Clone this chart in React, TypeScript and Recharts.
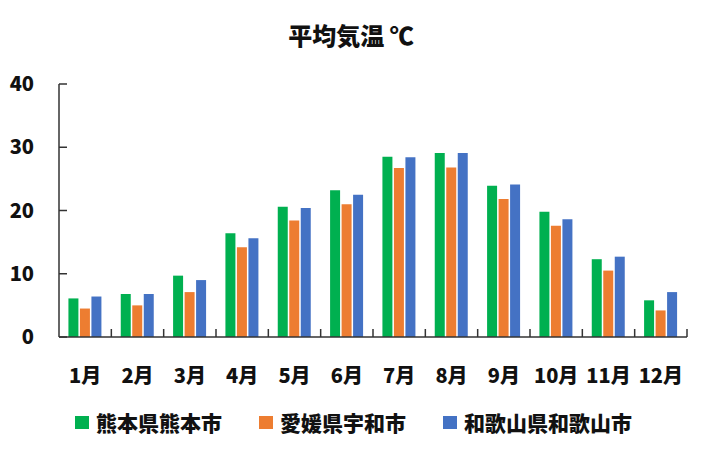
import { BarChart, Bar, XAxis, YAxis, Legend } from 'recharts';

const months = ['1月', '2月', '3月', '4月', '5月', '6月', '7月', '8月', '9月', '10月', '11月', '12月'];
const kumamoto = [6.1, 6.8, 9.7, 16.4, 20.6, 23.2, 28.5, 29.1, 23.9, 19.8, 12.3, 5.8];
const uwajima = [4.5, 5.0, 7.1, 14.2, 18.4, 21.0, 26.7, 26.8, 21.8, 17.6, 10.5, 4.2];
const wakayama = [6.4, 6.8, 9.0, 15.6, 20.4, 22.5, 28.4, 29.1, 24.1, 18.6, 12.7, 7.1];
const yTicks = [0, 10, 20, 30, 40];

const seriesNames = ['熊本県熊本市', '愛媛県宇和市', '和歌山県和歌山市'];
const seriesColors = ['#00B050', '#ED7D31', '#4472C4'];

const data = months.map((m, i) => ({
  month: m,
  kumamoto: kumamoto[i],
  uwajima: uwajima[i],
  wakayama: wakayama[i],
}));

const FONT = "'Noto Sans CJK JP', 'Noto Sans', sans-serif";
const WEIGHT = 900;
const AXIS_COLOR = '#333';
const TEXT_COLOR = '#111';
const X_TICK_MARGIN = 32;

// category label + boundary tick mark pointing up into the plot
const MonthTick = (props: any) => {
  const { x, y, payload } = props;
  const half = payload?.offset ?? 0;
  const axisY = y - X_TICK_MARGIN;
  return (
    <g>
      <line x1={x + half} x2={x + half} y1={axisY - 8} y2={axisY} stroke={AXIS_COLOR} strokeWidth={1.5} />
      <text x={x} y={y} dy="0.71em" textAnchor="middle" fill={TEXT_COLOR} fontSize={20} fontWeight={WEIGHT} fontFamily={FONT}>
        {payload.value}
      </text>
    </g>
  );
};

const LegendContent = () => (
  <div style={{ display: 'flex', justifyContent: 'center', alignItems: 'center', gap: 37, height: 26, paddingLeft: 20, fontFamily: FONT }}>
    {seriesNames.map((name, i) => (
      <div key={name} style={{ display: 'flex', alignItems: 'center', gap: 7 }}>
        <span style={{ display: 'inline-block', width: 14, height: 13, background: seriesColors[i] }} />
        <span style={{ fontSize: 21, fontWeight: WEIGHT, color: TEXT_COLOR, lineHeight: '26px' }}>{name}</span>
      </div>
    ))}
  </div>
);

export default function App() {
  return (
    <div style={{ position: 'absolute', left: 0, top: 0, width: 702, height: 451, background: '#fff' }}>
      <div
        style={{
          position: 'absolute',
          top: 20,
          left: 0,
          width: 702,
          textAlign: 'center',
          fontFamily: FONT,
          fontSize: 24,
          fontWeight: WEIGHT,
          color: TEXT_COLOR,
          lineHeight: '30px',
        }}
      >
        平均気温 ℃
      </div>
      <BarChart
        width={702}
        height={451}
        data={data}
        margin={{ top: 84, right: 15, left: 0, bottom: 16 }}
        barCategoryGap="18%"
        barGap={1.5}
      >
        <XAxis
          dataKey="month"
          height={72}
          tick={<MonthTick />}
          tickLine={false}
          tickSize={0}
          tickMargin={X_TICK_MARGIN}
          interval={0}
          axisLine={{ stroke: AXIS_COLOR, strokeWidth: 1.5 }}
        />
        <XAxis xAxisId="top" dataKey="month" orientation="top" height={0} tick={false} tickLine={false} axisLine={{ stroke: AXIS_COLOR, strokeWidth: 1.5 }} />
        <YAxis
          domain={[0, 40]}
          ticks={yTicks}
          width={59}
          tickSize={-8}
          tickMargin={33}
          tickLine={{ stroke: AXIS_COLOR, strokeWidth: 1.5 }}
          axisLine={{ stroke: AXIS_COLOR, strokeWidth: 1.5 }}
          tick={{ fill: TEXT_COLOR, fontSize: 20, fontWeight: WEIGHT, fontFamily: FONT }}
        />
        <YAxis yAxisId="right" orientation="right" domain={[0, 40]} width={0} tick={false} tickLine={false} axisLine={{ stroke: AXIS_COLOR, strokeWidth: 1.5 }} />
        <Legend verticalAlign="bottom" content={<LegendContent />} />
        <Bar dataKey="kumamoto" name={seriesNames[0]} fill={seriesColors[0]} isAnimationActive={false} />
        <Bar dataKey="uwajima" name={seriesNames[1]} fill={seriesColors[1]} isAnimationActive={false} />
        <Bar dataKey="wakayama" name={seriesNames[2]} fill={seriesColors[2]} isAnimationActive={false} />
      </BarChart>
    </div>
  );
}
